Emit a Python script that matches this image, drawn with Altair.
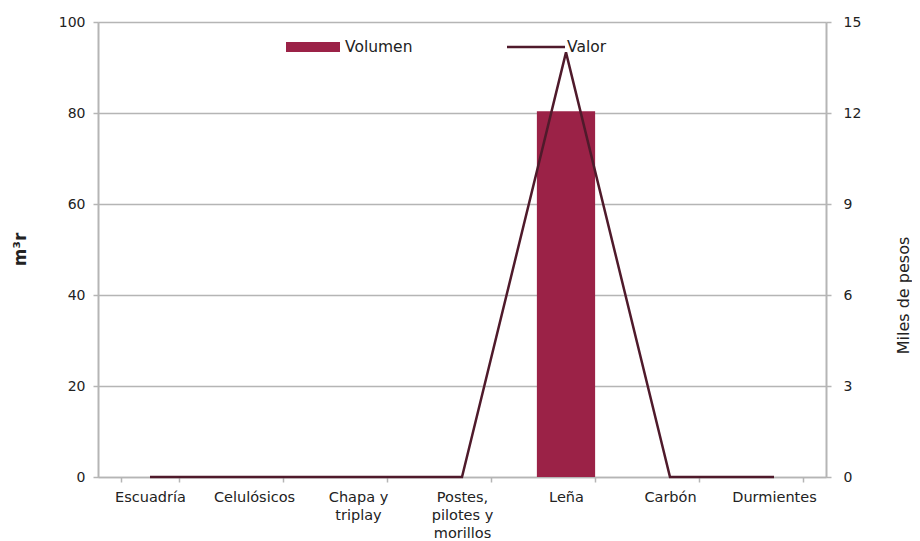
import altair as alt
import pandas as pd

categories = ["Escuadría", "Celulósicos", "Chapa y|triplay", "Postes,|pilotes y|morillos", "Leña", "Carbón", "Durmientes"]
volumen = [0, 0, 0, 0, 80.4, 0, 0]
valor = [0, 0, 0, 0, 14.0, 0, 0]

df = pd.DataFrame({"cat": categories, "volumen": volumen, "valor": valor})

FONT = "DejaVu Sans"
GRID = "#b5b5b5"
BAR = "#9b2247"
LINE = "#4f1a2b"
TXT = "#222"

x = alt.X("cat:N", sort=categories, title=None,
          scale=alt.Scale(paddingInner=0.44, paddingOuter=0.22),
          axis=alt.Axis(labelExpr="split(datum.label, '|')", labelAngle=0,
                        tickBand="extent", domainColor=GRID, tickColor=GRID,
                        domainWidth=1.5, tickWidth=1.5, tickSize=5,
                        labelFont=FONT, labelFontSize=14.5, labelColor=TXT,
                        labelPadding=8, labelLineHeight=18))

bars = alt.Chart(df).mark_bar(color=BAR).encode(
    x=x,
    y=alt.Y("volumen:Q", scale=alt.Scale(domain=[0, 100]),
            axis=alt.Axis(values=[0, 20, 40, 60, 80, 100], title="m³r",
                          grid=True, gridColor=GRID, gridWidth=1.5,
                          domainColor=GRID, tickColor=GRID, domainWidth=2, tickWidth=1.5,
                          tickSize=5, labelFont=FONT, labelFontSize=14, labelColor=TXT,
                          labelPadding=8, titleFont=FONT, titleFontSize=17,
                          titleFontWeight="bold", titleColor=TXT,
                          titleAngle=270, titleX=-78, titleY=227,
                          titleAlign="center", titleBaseline="middle"))
)

line = alt.Chart(df).mark_line(color=LINE, strokeWidth=2.5).encode(
    x=alt.X("cat:N", sort=categories),
    y=alt.Y("valor:Q", scale=alt.Scale(domain=[0, 15]),
            axis=alt.Axis(orient="right", values=[0, 3, 6, 9, 12, 15], title="Miles de pesos",
                          grid=False, domainColor=GRID, tickColor=GRID, domainWidth=2, tickWidth=1.5,
                          tickSize=5, labelFont=FONT, labelFontSize=14, labelColor=TXT,
                          labelPadding=12, titleFont=FONT, titleFontSize=16,
                          titleFontWeight="normal", titleColor=TXT,
                          titleAngle=270, titleX=77, titleY=273,
                          titleAlign="center", titleBaseline="middle"))
)

leg_df = pd.DataFrame({"a": [0]})
leg_rect = alt.Chart(leg_df).mark_rect(color=BAR).encode(
    x=alt.value(188), x2=alt.value(242), y=alt.value(20), y2=alt.value(30))
leg_rule = alt.Chart(leg_df).mark_rule(color=LINE, strokeWidth=2.5).encode(
    x=alt.value(409), x2=alt.value(467), y=alt.value(25))
leg_t1 = alt.Chart(leg_df).mark_text(text="Volumen", font=FONT, fontSize=15.5, align="left",
                                     baseline="middle", color=TXT).encode(
    x=alt.value(247), y=alt.value(25))
leg_t2 = alt.Chart(leg_df).mark_text(text="Valor", font=FONT, fontSize=15.5, align="left",
                                     baseline="middle", color=TXT).encode(
    x=alt.value(469), y=alt.value(25))

chart = alt.layer(bars, line, leg_rect, leg_rule, leg_t1, leg_t2).resolve_scale(
    y="independent"
).properties(
    width=728, height=455,
    autosize=alt.AutoSizeParams(type="none"),
    padding={"left": 90, "top": 14, "right": 86, "bottom": 64},
).configure_view(stroke=None).configure(background="white")

chart.save("out.html", embed_options={"renderer": "svg", "actions": False})
